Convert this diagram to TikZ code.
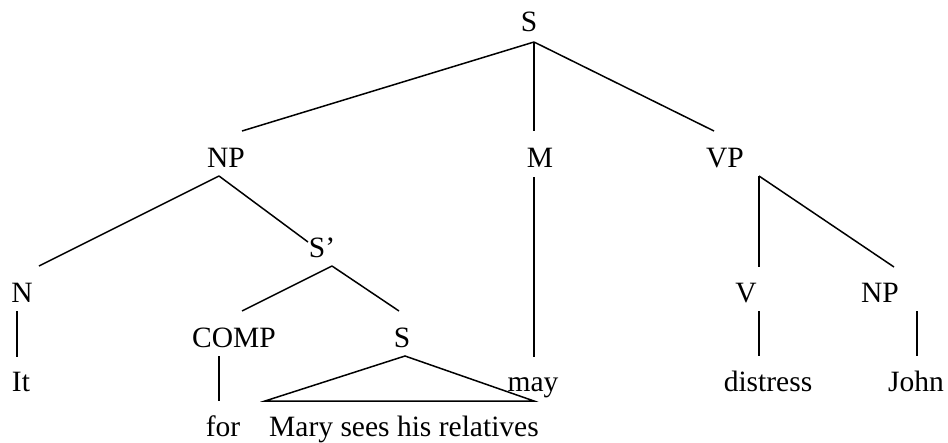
\documentclass[tikz,border=0pt]{standalone}
\usepackage{fontspec}
\setmainfont{Liberation Serif}
\usepackage{tikz}
\usetikzlibrary{calc}

\begin{document}
\begin{tikzpicture}[
  x=1pt, y=-1pt,
  cat/.style={anchor=base, inner sep=0pt, font=\fontsize{29.5}{35}\selectfont},
  branch/.style={line width=1.5pt, black}
]
  \useasboundingbox (0,0) rectangle (948,442);
  % categories
  \node[cat] (s0)   at (529,31)  {S};
  \node[cat] (np1)  at (226,167) {NP};
  \node[cat] (m)    at (540,167) {M};
  \node[cat] (vp)   at (725,167) {VP};
  \node[cat] (sbar) at (322,257) {S’};
  \node[cat] (n)    at (22,302)  {N};
  \node[cat] (v)    at (746,302) {V};
  \node[cat] (np2)  at (880,302) {NP};
  \node[cat] (comp) at (234,347) {COMP};
  \node[cat] (s1)   at (402,347) {S};
  % words
  \node[cat] (it)       at (21,391)  {It};
  \node[cat] (may)      at (533,391) {may};
  \node[cat] (distress) at (768,391) {distress};
  \node[cat] (john)     at (916,391) {John};
  \node[cat] (for)      at (223,436) {for};
  \node[cat] (mary)     at (404,436) {Mary sees his relatives};
  % branches
  \draw[branch] ($(s0.base)+(5,11)$) -- ($(np1.base)+(16,-36)$);
  \draw[branch] ($(s0.base)+(5,11)$) -- ($(m.base)+(-6,-36)$);
  \draw[branch] ($(s0.base)+(5,11)$) -- ($(vp.base)+(-11,-36)$);
  \draw[branch] ($(np1.base)+(-7,9)$) -- ($(n.base)+(17,-36)$);
  \draw[branch] ($(np1.base)+(-7,9)$) -- ($(sbar.base)+(-14,-15)$);
  \draw[branch] ($(n.base)+(-5,9)$) -- ($(it.base)+(-4,-34)$);
  \draw[branch] ($(sbar.base)+(10,9)$) -- ($(comp.base)+(8,-36)$);
  \draw[branch] ($(sbar.base)+(10,9)$) -- ($(s1.base)+(-3,-36)$);
  \draw[branch] ($(comp.base)+(-15,9)$) -- ($(for.base)+(-4,-35)$);
  \draw[branch] ($(s1.base)+(3,9)$) -- ($(mary.base)+(-139,-35)$)
    -- ($(mary.base)+(130,-35)$) -- cycle;
  \draw[branch] ($(m.base)+(-6,10)$) -- ($(may.base)+(1,-34)$);
  \draw[branch] ($(vp.base)+(34,9)$) -- ($(v.base)+(13,-35)$);
  \draw[branch] ($(vp.base)+(34,9)$) -- ($(np2.base)+(14,-35)$);
  \draw[branch] ($(v.base)+(13,9)$) -- ($(distress.base)+(-9,-35)$);
  \draw[branch] ($(np2.base)+(37,9)$) -- ($(john.base)+(1,-35)$);
\end{tikzpicture}
\end{document}
